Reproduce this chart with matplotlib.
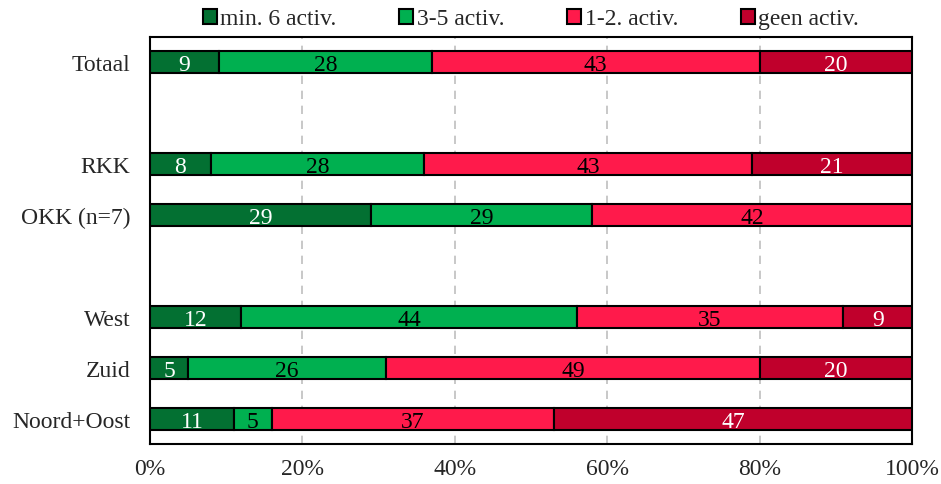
import numpy as np
import matplotlib.pyplot as plt

plt.rcParams["font.family"] = ["Liberation Serif", "DejaVu Serif"]

# rows top to bottom, empty strings are spacer rows
categories = ["Totaal", "", "RKK", "OKK (n=7)", "", "West", "Zuid", "Noord+Oost"]
series_names = ["min. 6 activ.", "3-5 activ.", "1-2. activ.", "geen activ."]
min6 = [9, 0, 8, 29, 0, 12, 5, 11]
act35 = [28, 0, 28, 29, 0, 44, 26, 5]
act12 = [43, 0, 43, 42, 0, 35, 49, 37]
geen = [20, 0, 21, 0, 0, 9, 20, 47]

colors = ["#037032", "#00b050", "#ff1a4b", "#c0002c"]
text_colors = ["white", "black", "black", "white"]
FS = 17

fig = plt.figure(figsize=(9.41, 4.85), dpi=100)
ax = fig.add_axes([150 / 941, 40 / 485, 762 / 941, 407 / 485])

y = np.arange(len(categories))
left = np.zeros(len(categories))
for vals, name, col, tcol in zip([min6, act35, act12, geen], series_names, colors, text_colors):
    vals = np.array(vals, dtype=float)
    keep = vals > 0
    ax.barh(y[keep], vals[keep], left=left[keep], height=0.43, color=col,
            edgecolor="black", linewidth=1.5, label=name, zorder=3)
    for i in np.where(keep)[0]:
        ax.text(left[i] + vals[i] / 2, y[i] + 0.05, f"{int(vals[i])}", ha="center",
                va="center", fontsize=FS, color=tcol, zorder=4)
    left += vals

ax.set_xlim(0, 100)
ax.set_ylim(len(categories) - 0.5, -0.5)
ax.set_yticks(y)
ax.set_yticklabels(categories, fontsize=FS, color="#262626")
ax.set_xticks(np.arange(0, 101, 20))
ax.set_xticklabels([f"{v}%" for v in range(0, 101, 20)], fontsize=FS, color="#262626")
ax.tick_params(axis="y", length=0, pad=14)
ax.tick_params(axis="x", length=0, pad=10)
ax.xaxis.grid(True, linestyle=(0, (5, 4)), color="#bfbfbf", linewidth=1.2, zorder=0)
for s in ax.spines.values():
    s.set_linewidth(1.5)

leg = ax.legend(loc="center", bbox_to_anchor=(0.5, 1 + 18 / 407), ncol=4, frameon=False,
                fontsize=FS, handlelength=0.6, handleheight=0.6, handletextpad=0.15,
                columnspacing=2.65, borderaxespad=0, borderpad=0)
for t in leg.get_texts():
    t.set_color("#262626")

fig.savefig("out.png", dpi=100)
